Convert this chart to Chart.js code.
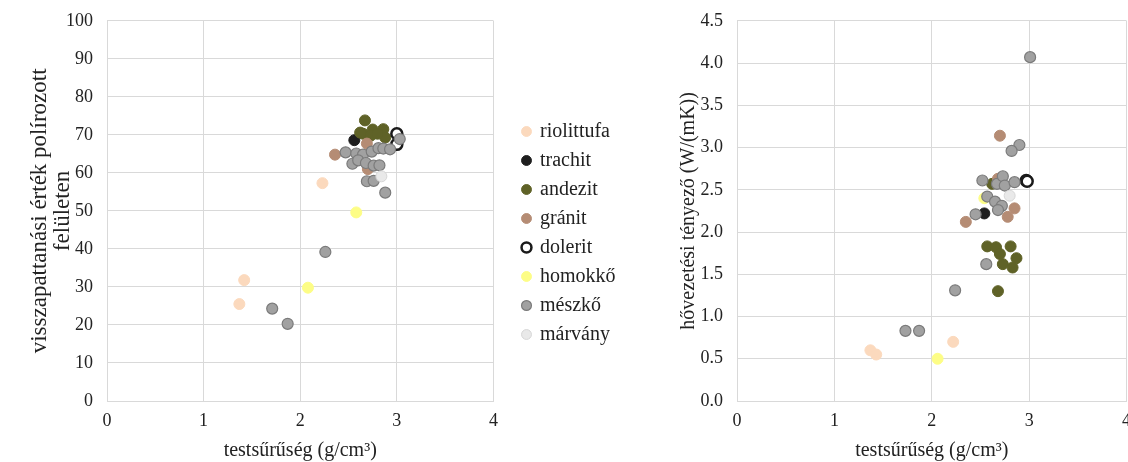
<!DOCTYPE html>
<html>
<head>
<meta charset="utf-8">
<script src="https://cdn.jsdelivr.net/npm/chart.js@4.4.1/dist/chart.umd.min.js"></script>
<style>
  body { margin: 0; background: #fff; width: 1128px; height: 462px; overflow: hidden; position: relative; }
  #left { position: absolute; left: 0; top: -4px; }
  #right { position: absolute; left: 650px; top: -4px; }
</style>
</head>
<body>
<canvas id="left" width="650" height="466"></canvas>
<canvas id="right" width="490" height="466"></canvas>
<script>
// rock types, in legend order
var rockTypes = ['riolittufa', 'trachit', 'andezit', 'gránit', 'dolerit', 'homokkő', 'mészkő', 'márvány'];

// [density g/cm3, rebound value] - left chart
var riolittufaRebound = [[1.42, 31.8], [1.37, 25.5], [2.23, 57.3]];
var trachitRebound = [[2.56, 68.6]];
var andezitRebound = [[2.67, 73.8], [2.75, 71.4], [2.65, 70.3], [2.86, 71.5], [2.88, 69.3], [2.73, 69.8], [2.80, 70.3], [2.62, 70.6]];
var granitRebound = [[2.36, 64.8], [2.69, 67.7], [2.70, 61.0]];
var doleritRebound = [[3.00, 70.3], [3.00, 67.5]];
var homokkoRebound = [[2.58, 49.6], [2.08, 29.8]];
var meszkoRebound = [[2.26, 39.2], [1.71, 24.3], [1.87, 20.3], [2.88, 54.8], [2.69, 57.8], [2.76, 57.9], [2.47, 65.4], [2.58, 65.1], [2.65, 64.8], [2.74, 65.6], [2.81, 66.5], [2.86, 66.4], [2.93, 66.2], [3.03, 68.9], [2.54, 62.4], [2.60, 63.3], [2.68, 62.6], [2.76, 61.9], [2.82, 62.0]];
var marvanyRebound = [[2.84, 59.1]];

// [density g/cm3, thermal conductivity W/(mK)] - right chart
var riolittufaConductivity = [[1.37, 0.60], [1.43, 0.55], [2.22, 0.70]];
var trachitConductivity = [[2.54, 2.22]];
var andezitConductivity = [[2.57, 1.83], [2.66, 1.82], [2.70, 1.74], [2.81, 1.83], [2.87, 1.69], [2.73, 1.62], [2.83, 1.58], [2.68, 1.30], [2.62, 2.57]];
var granitConductivity = [[2.35, 2.12], [2.78, 2.18], [2.85, 2.28], [2.70, 3.14], [2.68, 2.63]];
var doleritConductivity = [[2.97, 2.61], [2.98, 2.60]];
var homokkoConductivity = [[2.06, 0.50], [2.54, 2.40]];
var meszkoConductivity = [[1.73, 0.83], [1.87, 0.83], [2.24, 1.31], [3.01, 4.07], [2.90, 3.03], [2.82, 2.96], [2.56, 1.62], [2.52, 2.61], [2.67, 2.57], [2.73, 2.66], [2.75, 2.55], [2.85, 2.59], [2.57, 2.42], [2.65, 2.36], [2.72, 2.31], [2.68, 2.26], [2.45, 2.21]];
var marvanyConductivity = [[2.80, 2.43]];

var xTicks = [0, 1, 2, 3, 4];
var reboundTicks = [0, 10, 20, 30, 40, 50, 60, 70, 80, 90, 100];
var conductivityTicks = [0, 0.5, 1, 1.5, 2, 2.5, 3, 3.5, 4, 4.5];

var fills = ['#fbd9bd', '#1e1e1e', '#5f6227', '#b58c74', '#ffffff', '#fdfd86', '#a1a1a1', '#e9e9e9'];
var borders = ['#fbd9bd', '#1e1e1e', '#5f6227', '#b58c74', '#1a1a1a', '#fdfd86', '#7b7b7b', '#d6d6d6'];
var borderW = [1, 1, 1, 1, 2.5, 1, 1.2, 1];

var serif = 'Liberation Serif';

function toPoints(arr) {
    return arr.map(function(p) { return {x: p[0], y: p[1]}; });
}

function makeDatasets(series) {
    return series.map(function(s, i) {
        return {
            label: rockTypes[i],
            data: toPoints(s),
            backgroundColor: fills[i],
            borderColor: borders[i],
            borderWidth: borderW[i],
            pointRadius: 5.5,
            pointHoverRadius: 5.5,
            order: rockTypes.length - i
        };
    });
}

function axisX() {
    return {
        type: 'linear', min: 0, max: 4,
        afterBuildTicks: function(s) { s.ticks = xTicks.map(function(v) { return {value: v}; }); },
        grid: { color: '#d9d9d9', lineWidth: 1, drawTicks: false },
        border: { color: '#d9d9d9' },
        ticks: { color: '#222', font: {family: serif, size: 18}, padding: 9 },
        title: { display: true, text: 'testsűrűség (g/cm³)', color: '#222', font: {family: serif, size: 20, lineHeight: 1.1}, padding: 0 },
        afterFit: function(s) { s.height = 61; }
    };
}

function axisY(max, ticks, title, titleSize, titlePad, width, fmt) {
    return {
        type: 'linear', min: 0, max: max,
        afterBuildTicks: function(s) { s.ticks = ticks.map(function(v) { return {value: v}; }); },
        grid: { color: '#d9d9d9', lineWidth: 1, drawTicks: false },
        border: { color: '#d9d9d9' },
        ticks: { color: '#222', font: {family: serif, size: 18}, padding: 14, callback: fmt },
        title: { display: true, text: title, color: '#222', font: {family: serif, size: titleSize, lineHeight: 1.0}, padding: {top: titlePad, bottom: 0} },
        afterFit: function(s) { s.width = width; }
    };
}

// move the legend block next to the plot, like the original layout
var legendShift = {
    id: 'legendShift',
    afterLayout: function(chart, args, opts) {
        var l = chart.legend;
        if (!l) return;
        var w = l.right - l.left;
        l.left = opts.x;
        l.right = opts.x + w;
        l.top += opts.dy;
        l.bottom += opts.dy;
    }
};

new Chart(document.getElementById('left').getContext('2d'), {
    type: 'scatter',
    data: { datasets: makeDatasets([riolittufaRebound, trachitRebound, andezitRebound, granitRebound, doleritRebound, homokkoRebound, meszkoRebound, marvanyRebound]) },
    plugins: [legendShift],
    options: {
        responsive: false,
        animation: false,
        layout: { padding: {top: 16, right: 45, left: 0, bottom: 0} },
        scales: {
            x: axisX(),
            y: axisY(100, reboundTicks, ['visszapattanási érték polírozott', 'felületen'], 23, 28, 107, function(v) { return v; })
        },
        plugins: {
            tooltip: { enabled: false },
            legendShift: { x: 514, dy: -4 },
            legend: {
                position: 'right',
                labels: {
                    usePointStyle: true,
                    pointStyle: 'circle',
                    boxWidth: 7, boxHeight: 7,
                    padding: 9,
                    color: '#222',
                    font: {family: serif, size: 20},
                    sort: function(a, b) { return a.datasetIndex - b.datasetIndex; }
                }
            }
        }
    }
});

new Chart(document.getElementById('right').getContext('2d'), {
    type: 'scatter',
    data: { datasets: makeDatasets([riolittufaConductivity, trachitConductivity, andezitConductivity, granitConductivity, doleritConductivity, homokkoConductivity, meszkoConductivity, marvanyConductivity]) },
    options: {
        responsive: false,
        animation: false,
        layout: { padding: {top: 16, right: 13, left: 0, bottom: 0} },
        scales: {
            x: axisX(),
            y: axisY(4.5, conductivityTicks, 'hővezetési tényező (W/(mK))', 20, 29, 87, function(v) { return v.toFixed(1); })
        },
        plugins: {
            tooltip: { enabled: false },
            legend: { display: false }
        }
    }
});
</script>
</body>
</html>
